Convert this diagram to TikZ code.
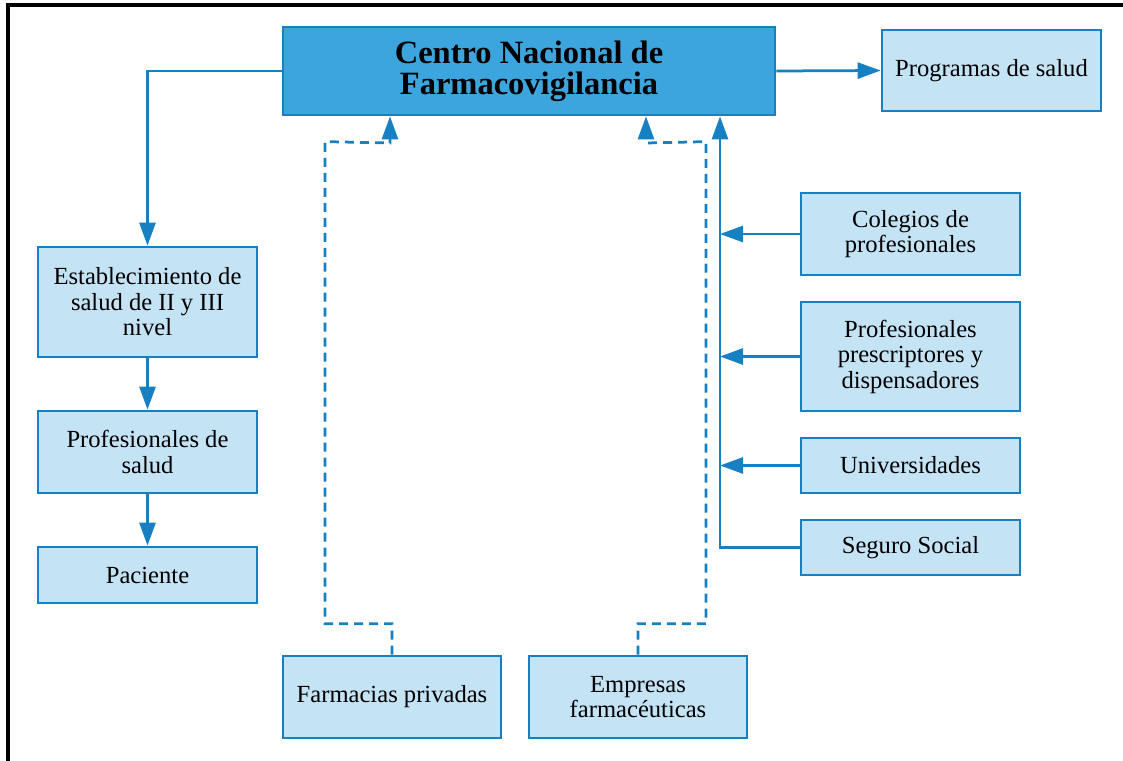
\documentclass[tikz,border=0pt]{standalone}
\usepackage{fontspec}
\setmainfont{Liberation Serif}
\usetikzlibrary{arrows.meta}

\definecolor{azul}{HTML}{1580C2}
\definecolor{azulmedio}{HTML}{3CA5DD}
\definecolor{celeste}{HTML}{C4E4F6}

\begin{document}
\begin{tikzpicture}[x=0.02cm, y=-0.02cm,
		caja/.style={draw=azul, fill=celeste, line width=0.055cm, align=center, minimum width=4.38cm, inner sep=2pt, font=\fontsize{14}{14.5}\selectfont},
		central/.style={draw=azul, fill=azulmedio, line width=0.055cm, align=center, minimum width=9.84cm, minimum height=1.76cm, font=\fontsize{18.5}{17.5}\selectfont\bfseries},
		flecha/.style={draw=azul, line width=0.055cm, line join=miter, -{Triangle[length=0.46cm, width=0.32cm]}},
		punteada/.style={flecha, dash pattern=on 0.18cm off 0.12cm}]
		\useasboundingbox (0,0) rectangle (1123,761);
		\draw [line width=0.08cm] (1123,5) -- (8,5) -- (8,761);

		\node [central] (centro) at (529,71) {Centro Nacional de\\Farmacovigilancia};
		\node [caja, minimum height=1.62cm] (programas) at (991.5,70.5) {Programas de salud};

		\node [caja, minimum height=2.2cm] (estab) at (147.5,302) {Establecimiento de\\salud de II y III\\nivel};
		\node [caja, minimum height=1.64cm] (profsalud) at (147.5,452) {Profesionales de\\salud};
		\node [caja, minimum height=1.12cm] (paciente) at (147.5,575) {Paciente};

		\node [caja, minimum height=1.64cm] (colegios) at (910.5,234) {Colegios de\\profesionales};
		\node [caja, minimum height=2.18cm] (prescriptores) at (910.5,356.5) {Profesionales\\prescriptores y\\dispensadores};
		\node [caja, minimum height=1.1cm] (universidades) at (910.5,465.5) {Universidades};
		\node [caja, minimum height=1.1cm] (seguro) at (910.5,547.5) {Seguro Social};

		\node [caja, minimum width=4.36cm, minimum height=1.64cm] (farmacias) at (392,697) {Farmacias privadas};
		\node [caja, minimum width=4.36cm, minimum height=1.64cm] (empresas) at (638,697) {Empresas\\farmacéuticas};

		\coordinate (bus) at (720,0);
		\coordinate (fp) at (390,0);
		\coordinate (ef) at (646,0);

		\draw [flecha] (centro.east) -- (programas.west);
		\draw [flecha] (centro.west) -| (estab.north);
		\draw [flecha] (estab) -- (profsalud);
		\draw [flecha] (profsalud) -- (paciente);

		\draw [flecha] (seguro.west) -| (centro.south -| bus);
		\draw [flecha] (colegios.west) -- (colegios.west -| bus);
		\draw [flecha] (prescriptores.west) -- (prescriptores.west -| bus);
		\draw [flecha] (universidades.west) -- (universidades.west -| bus);

		\draw [punteada] (farmacias.north) -- ++(0,-31) -- ++(-67,0) -- ++(0,-482) -- (fp |- 0,143) -- (centro.south -| fp);
		\draw [punteada] (empresas.north) -- ++(0,-31) -- ++(68,0) -- ++(0,-482) -- (ef |- 0,143) -- (centro.south -| ef);
	\end{tikzpicture}
\end{document}
